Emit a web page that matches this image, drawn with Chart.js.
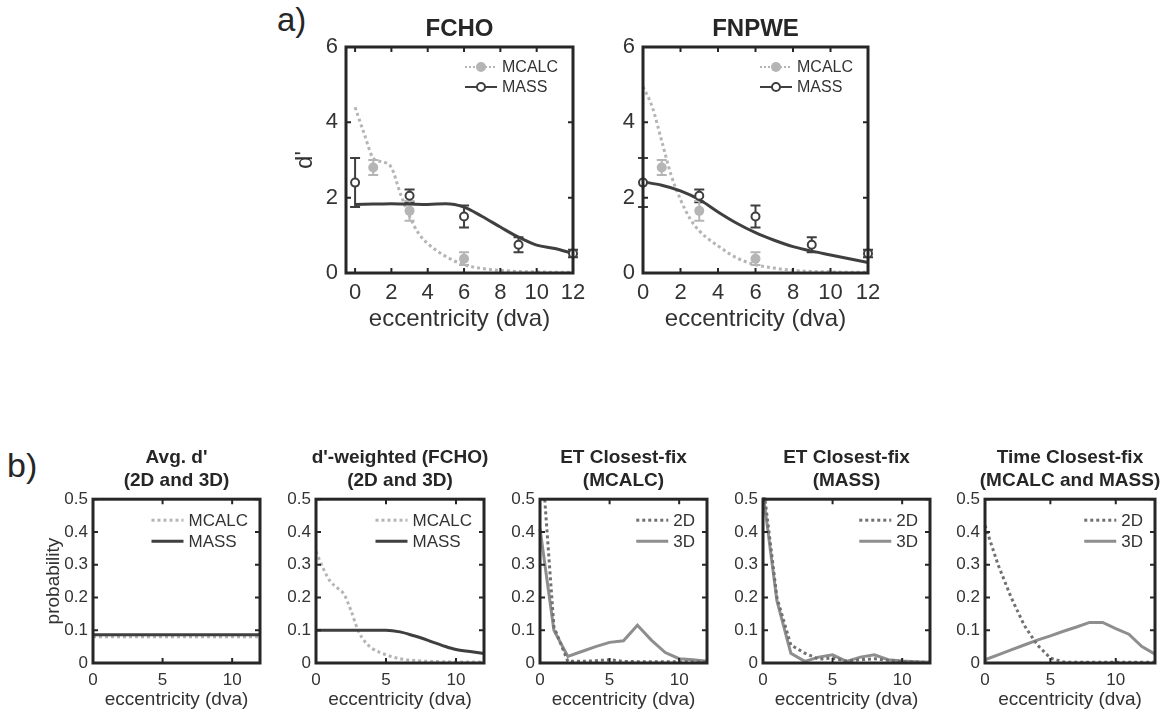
<!DOCTYPE html>
<html>
<head>
<meta charset="utf-8">
<script src="https://cdn.jsdelivr.net/npm/chart.js@4.4.1/dist/chart.umd.min.js"></script>
<style>
  body { margin: 0; background: #fff; width: 1163px; height: 715px; position: relative; overflow: hidden;
         font-family: 'Liberation Sans', Arial, Helvetica, sans-serif; color: #262626; }
  canvas { position: absolute; }
  .tag { position: absolute; white-space: nowrap; line-height: 1; }
  .ttl { position: absolute; font-weight: bold; text-align: center; white-space: nowrap; transform: translateX(-50%); }
</style>
</head>
<body>
<div class="tag" style="left:277px; top:3px; font-size:33px;">a)</div>
<div class="tag" style="left:7px; top:448px; font-size:34px;">b)</div>
<script>
// Оси и подписи
const topTicksX = [0, 2, 4, 6, 8, 10, 12];
const topTicksY = [0, 2, 4, 6];
const botTicksX = [0, 5, 10];
const botTicksY = [0, 0.1, 0.2, 0.3, 0.4, 0.5];

// --- a) экспериментальные точки (одинаковые на обеих панелях) ---
const obsMcalcX = [1, 3, 6];
const obsMcalcY = [2.8, 1.65, 0.38];
const obsMcalcErr = [0.2, 0.26, 0.17];
const obsMassX = [0, 3, 6, 9, 12];
const obsMassY = [2.4, 2.05, 1.5, 0.75, 0.52];
const obsMassErr = [0.65, 0.17, 0.29, 0.2, 0.1];

// --- a) кривые моделей ---
const modelMcalcX = [0, 0.5, 1, 1.5, 2, 2.5, 3, 3.5, 4, 5, 6, 7, 8, 9, 10, 11, 12];
const fchoMcalcY = [4.4, 3.7, 3.05, 2.95, 2.8, 2.1, 1.5, 1.05, 0.78, 0.44, 0.22, 0.12, 0.07, 0.04, 0.03, 0.02, 0.02];
const fnpweMcalcY = [4.95, 4.4, 3.5, 2.6, 1.95, 1.45, 1.12, 0.9, 0.72, 0.4, 0.22, 0.13, 0.07, 0.04, 0.03, 0.02, 0.02];
const modelMassX = [0, 1, 2, 3, 4, 5, 6, 7, 8, 9, 10, 11, 12];
const fchoMassY = [1.82, 1.83, 1.84, 1.83, 1.82, 1.84, 1.75, 1.5, 1.22, 0.95, 0.74, 0.65, 0.52];
const fnpweMassY = [2.42, 2.33, 2.18, 1.95, 1.62, 1.32, 1.07, 0.87, 0.7, 0.58, 0.48, 0.38, 0.28];

// --- b) распределения ---
const avgX = [0, 12];
const avgMcalc = [0.08, 0.08];
const avgMass = [0.086, 0.086];

const weightedMcalcX = [0, 0.5, 1, 1.5, 2, 2.5, 3, 3.5, 4, 5, 6, 7, 8, 9, 10, 11, 12];
const weightedMcalc = [0.34, 0.29, 0.25, 0.23, 0.21, 0.16, 0.1, 0.065, 0.045, 0.025, 0.013, 0.008, 0.005, 0.004, 0.003, 0.003, 0.003];
const binsX = [0, 1, 2, 3, 4, 5, 6, 7, 8, 9, 10, 11, 12];
const weightedMass = [0.1, 0.1, 0.1, 0.1, 0.1, 0.1, 0.095, 0.083, 0.069, 0.054, 0.041, 0.035, 0.029];

const etMcalc2D = [0.7, 0.11, 0.005, 0.005, 0.007, 0.01, 0.005, 0.004, 0.004, 0.004, 0.004, 0.004, 0.003];
const etMcalc3D = [0.41, 0.1, 0.02, 0.035, 0.05, 0.063, 0.068, 0.115, 0.07, 0.032, 0.013, 0.01, 0.005];

const etMass2D = [0.55, 0.2, 0.055, 0.03, 0.012, 0.015, 0.006, 0.01, 0.013, 0.008, 0.004, 0.003, 0.002];
const etMass3D = [0.52, 0.19, 0.03, 0.005, 0.018, 0.025, 0.005, 0.018, 0.025, 0.01, 0.006, 0.004, 0.002];

const timeX = [0, 1, 2, 3, 4, 5, 6, 7, 8, 9, 10, 11, 12, 13];
const time2D = [0.42, 0.3, 0.2, 0.115, 0.055, 0.015, 0.003, 0.002, 0.002, 0.002, 0.002, 0.002, 0.002, 0.002];
const time3D = [0.01, 0.025, 0.04, 0.055, 0.07, 0.083, 0.097, 0.11, 0.124, 0.124, 0.105, 0.088, 0.05, 0.027];

// Цвета
const C_MCALC = '#b5b5b5';
const C_MASS = '#3f3f3f';
const C_2D = '#717171';
const C_3D = '#8e8e8e';
const C_AXIS = '#262626';
const C_TEXT = '#333333';
const FONT = "'Liberation Sans', Arial, Helvetica, sans-serif";

const pts = (xs, ys) => xs.map((x, i) => ({ x: x, y: ys[i] }));

// Рамка и внутренние засечки в стиле MATLAB
const matlabBox = {
    id: 'matlabBox',
    afterDatasetsDraw(chart) {
        const { ctx, chartArea: a, scales: { x, y } } = chart;
        ctx.save();
        ctx.strokeStyle = C_AXIS;
        ctx.lineWidth = 2;
        ctx.beginPath();
        x.ticks.forEach(t => {
            const px = x.getPixelForValue(t.value);
            ctx.moveTo(px, a.bottom); ctx.lineTo(px, a.bottom - 5);
            ctx.moveTo(px, a.top); ctx.lineTo(px, a.top + 5);
        });
        y.ticks.forEach(t => {
            const py = y.getPixelForValue(t.value);
            ctx.moveTo(a.left, py); ctx.lineTo(a.left + 5, py);
            ctx.moveTo(a.right, py); ctx.lineTo(a.right - 5, py);
        });
        ctx.stroke();
        ctx.lineWidth = 3;
        ctx.strokeRect(a.left, a.top, a.right - a.left, a.bottom - a.top);
        ctx.restore();
    }
};

// Планки погрешностей
const errorBars = {
    id: 'errorBars',
    beforeDatasetsDraw(chart) {
        const { ctx, scales: { x, y } } = chart;
        chart.data.datasets.forEach(ds => {
            if (!ds.errors) return;
            ctx.save();
            ctx.strokeStyle = ds.errColor;
            ctx.lineWidth = 2;
            ctx.beginPath();
            ds.data.forEach((p, i) => {
                const px = x.getPixelForValue(p.x);
                const lo = y.getPixelForValue(p.y - ds.errors[i]);
                const hi = y.getPixelForValue(p.y + ds.errors[i]);
                ctx.moveTo(px, lo); ctx.lineTo(px, hi);
                ctx.moveTo(px - 5, lo); ctx.lineTo(px + 5, lo);
                ctx.moveTo(px - 5, hi); ctx.lineTo(px + 5, hi);
            });
            ctx.stroke();
            ctx.restore();
        });
    }
};

// Легенда внутри области графика (правый верхний угол)
function innerLegend(items, cfg) {
    return {
        id: 'innerLegend',
        afterDraw(chart) {
            const { ctx, chartArea: a } = chart;
            ctx.save();
            ctx.font = cfg.size + 'px ' + FONT;
            const tw = Math.max(...items.map(it => ctx.measureText(it.label).width));
            const tx = a.right - cfg.margin - tw;
            items.forEach((it, i) => {
                const yy = a.top + cfg.first + i * cfg.gap;
                const x0 = tx - cfg.pad - cfg.lineLen, x1 = tx - cfg.pad;
                ctx.strokeStyle = it.color;
                ctx.lineWidth = it.width;
                ctx.setLineDash(it.dash || []);
                ctx.beginPath(); ctx.moveTo(x0, yy); ctx.lineTo(x1, yy); ctx.stroke();
                ctx.setLineDash([]);
                if (it.marker === 'filled') {
                    ctx.fillStyle = it.color;
                    ctx.beginPath(); ctx.arc((x0 + x1) / 2, yy, 5, 0, Math.PI * 2); ctx.fill();
                } else if (it.marker === 'open') {
                    ctx.fillStyle = '#fff';
                    ctx.lineWidth = 2;
                    ctx.beginPath(); ctx.arc((x0 + x1) / 2, yy, 4, 0, Math.PI * 2); ctx.fill(); ctx.stroke();
                }
                ctx.fillStyle = C_TEXT;
                ctx.textAlign = 'left';
                ctx.textBaseline = 'middle';
                ctx.fillText(it.label, tx, yy + 1);
            });
            ctx.restore();
        }
    };
}

function lineDs(data, color, dotted, smooth) {
    return {
        data: data, borderColor: color, borderWidth: 3, pointRadius: 0, fill: false,
        borderDash: dotted ? [3, 3] : [], borderCapStyle: 'butt',
        cubicInterpolationMode: smooth ? 'monotone' : 'default', clip: 2
    };
}

function makePanel(p) {
    const cl = p.box.l - p.padL;
    const w = p.box.r - cl + 20;
    const h = p.bottom - p.top;
    const cv = document.createElement('canvas');
    cv.width = w; cv.height = h;
    cv.style.left = cl + 'px'; cv.style.top = p.top + 'px';
    document.body.appendChild(cv);

    const t = document.createElement('div');
    t.className = 'ttl';
    t.style.left = ((p.box.l + p.box.r) / 2) + 'px';
    t.style.top = p.titleTop + 'px';
    t.style.fontSize = p.titleSize + 'px';
    t.style.lineHeight = p.titleLine + 'px';
    t.innerHTML = p.title.map(s => s.replace(/&/g, '&amp;')).join('<br>');
    document.body.appendChild(t);

    new Chart(cv, {
        type: 'line',
        data: { datasets: p.datasets },
        options: {
            responsive: false, animation: false, devicePixelRatio: 1,
            layout: { padding: { top: p.box.t - p.top, right: 20, left: 0, bottom: 0 } },
            plugins: { legend: { display: false }, tooltip: { enabled: false } },
            scales: {
                x: {
                    type: 'linear', min: p.xMin, max: p.xMax,
                    afterBuildTicks: s => { s.ticks = p.ticksX.map(v => ({ value: v })); },
                    afterFit: s => { s.height = p.bottom - p.box.b; },
                    grid: { display: false, drawTicks: false },
                    border: { display: false },
                    ticks: { color: C_TEXT, padding: p.tickPadX, maxRotation: 0, autoSkip: false,
                             font: { family: FONT, size: p.tickSize } },
                    title: { display: true, text: 'eccentricity (dva)', color: C_TEXT,
                             padding: { top: 0, bottom: 0 }, font: { family: FONT, size: p.labelSize } }
                },
                y: {
                    min: 0, max: p.yMax,
                    afterBuildTicks: s => { s.ticks = p.ticksY.map(v => ({ value: v })); },
                    afterFit: s => { s.width = p.padL; },
                    grid: { display: false, drawTicks: false },
                    border: { display: false },
                    ticks: { color: C_TEXT, padding: p.tickPadY, autoSkip: false,
                             font: { family: FONT, size: p.tickSize } },
                    title: { display: !!p.yTitle, text: p.yTitle || '', color: C_TEXT,
                             padding: { top: 0, bottom: 0 }, font: { family: FONT, size: p.labelSize } }
                }
            }
        },
        plugins: [errorBars, matlabBox, innerLegend(p.legend, p.legendCfg)]
    });
}

// --- a) панели ---
function obsDatasets() {
    return [
        { data: pts(obsMassX, obsMassY), errors: obsMassErr, errColor: C_MASS, showLine: false,
          pointRadius: 4, pointBorderWidth: 2, pointBackgroundColor: '#fff', pointBorderColor: C_MASS, clip: false },
        { data: pts(obsMcalcX, obsMcalcY), errors: obsMcalcErr, errColor: C_MCALC, showLine: false,
          pointRadius: 5, pointBorderWidth: 0, pointBackgroundColor: C_MCALC, pointBorderColor: C_MCALC, clip: false }
    ];
}
const topLegend = [
    { label: 'MCALC', color: C_MCALC, width: 2, dash: [2, 2], marker: 'filled' },
    { label: 'MASS', color: C_MASS, width: 2, marker: 'open' }
];
const topCommon = {
    top: 0, bottom: 334, padL: 55, yMax: 6, xMax: 12,
    ticksX: topTicksX, ticksY: topTicksY, tickSize: 22, labelSize: 24, tickPadX: 7, tickPadY: 8,
    titleTop: 14, titleSize: 24, titleLine: 28,
    legend: topLegend, legendCfg: { size: 16, margin: 15, first: 20, gap: 20, lineLen: 32, pad: 5 }
};
makePanel(Object.assign({}, topCommon, {
    box: { l: 346, r: 573, t: 47, b: 273 }, xMin: -0.5, yTitle: "d'", title: ['FCHO'],
    datasets: obsDatasets().concat([
        lineDs(pts(modelMassX, fchoMassY), C_MASS, false, true),
        lineDs(pts(modelMcalcX, fchoMcalcY), C_MCALC, true, true)
    ])
}));
makePanel(Object.assign({}, topCommon, {
    box: { l: 643, r: 868, t: 47, b: 273 }, xMin: 0, title: ['FNPWE'],
    datasets: obsDatasets().concat([
        lineDs(pts(modelMassX, fnpweMassY), C_MASS, false, true),
        lineDs(pts(modelMcalcX, fnpweMcalcY), C_MCALC, true, true)
    ])
}));

// --- b) панели ---
const legModel = [
    { label: 'MCALC', color: C_MCALC, width: 3, dash: [3, 3] },
    { label: 'MASS', color: C_MASS, width: 3 }
];
const legDim = [
    { label: '2D', color: C_2D, width: 3, dash: [3, 3] },
    { label: '3D', color: C_3D, width: 3 }
];
const botCommon = {
    top: 484, bottom: 711, padL: 51, yMax: 0.5, xMin: 0, xMax: 12,
    ticksX: botTicksX, ticksY: botTicksY, tickSize: 17, labelSize: 19, tickPadX: 7, tickPadY: 5,
    titleTop: 445, titleSize: 19, titleLine: 23,
    legendCfg: { size: 17, margin: 12, first: 21, gap: 21, lineLen: 32, pad: 5 }
};
makePanel(Object.assign({}, botCommon, {
    box: { l: 93, r: 260, t: 496, b: 663 }, yTitle: 'probability', title: ["Avg. d'", '(2D and 3D)'],
    legend: legModel,
    datasets: [
        lineDs(pts(avgX, avgMass), C_MASS, false, false),
        lineDs(pts(avgX, avgMcalc), C_MCALC, true, false)
    ]
}));
makePanel(Object.assign({}, botCommon, {
    box: { l: 316, r: 484, t: 496, b: 663 }, title: ["d'-weighted (FCHO)", '(2D and 3D)'],
    legend: legModel,
    datasets: [
        lineDs(pts(binsX, weightedMass), C_MASS, false, true),
        lineDs(pts(weightedMcalcX, weightedMcalc), C_MCALC, true, true)
    ]
}));
makePanel(Object.assign({}, botCommon, {
    box: { l: 540, r: 707, t: 496, b: 663 }, title: ['ET Closest-fix', '(MCALC)'],
    legend: legDim,
    datasets: [
        lineDs(pts(binsX, etMcalc2D), C_2D, true, false),
        lineDs(pts(binsX, etMcalc3D), C_3D, false, false)
    ]
}));
makePanel(Object.assign({}, botCommon, {
    box: { l: 763, r: 930, t: 496, b: 663 }, title: ['ET Closest-fix', '(MASS)'],
    legend: legDim,
    datasets: [
        lineDs(pts(binsX, etMass2D), C_2D, true, false),
        lineDs(pts(binsX, etMass3D), C_3D, false, false)
    ]
}));
makePanel(Object.assign({}, botCommon, {
    box: { l: 985, r: 1155, t: 496, b: 663 }, xMax: 13, title: ['Time Closest-fix', '(MCALC and MASS)'],
    legend: legDim,
    datasets: [
        lineDs(pts(timeX, time2D), C_2D, true, false),
        lineDs(pts(timeX, time3D), C_3D, false, false)
    ]
}));
</script>
</body>
</html>
